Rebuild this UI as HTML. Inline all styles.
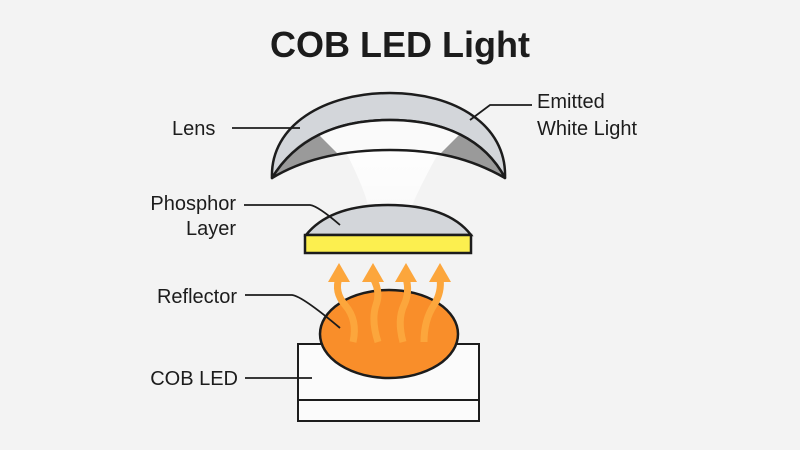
<!DOCTYPE html>
<html><head><meta charset="utf-8"><style>
html,body{margin:0;padding:0;background:#f3f3f3;}
svg{display:block;}
text{font-family:"Liberation Sans",sans-serif;fill:#1c1c1c;}
</style></head><body>
<svg width="800" height="450" viewBox="0 0 800 450">
<defs>
<linearGradient id="beam" x1="0" y1="0" x2="0" y2="1">
<stop offset="0" stop-color="#ffffff" stop-opacity="0.9"/>
<stop offset="1" stop-color="#ffffff" stop-opacity="0.6"/>
</linearGradient>
</defs>
<rect width="800" height="450" fill="#f3f3f3"/>
<text x="400" y="57" text-anchor="middle" font-size="36" font-weight="bold">COB LED Light</text>

<!-- beam -->
<path d="M345 150 Q365 190 368 206 L412 206 Q418 190 440 150 Z" fill="url(#beam)"/>

<!-- lens -->
<path d="M272 178 C270 125 325 93 390 93 C455 93 507 125 505 178 C485 140 445 120 390 120 C335 120 295 140 272 178 Z" fill="#d3d6da" stroke="#1c1c1c" stroke-width="2.5" stroke-linejoin="round"/>
<path d="M272 178 C295 140 335 120 390 120 C445 120 485 140 505 178 C470 158 435 150 390 150 C345 150 305 158 272 178 Z" fill="#fafafa"/>
<path d="M274 176 C285 155 300 142 318 134 L337 153 C315 158 292 165 274 176 Z" fill="#9a9a9a"/>
<path d="M503 176 C492 155 477 142 460 134 L441 153 C462 158 485 165 503 176 Z" fill="#9a9a9a"/>
<path d="M272 178 C295 140 335 120 390 120 C445 120 485 140 505 178 C470 158 435 150 390 150 C345 150 305 158 272 178 Z" fill="none" stroke="#1c1c1c" stroke-width="2.5" stroke-linejoin="round"/>

<!-- phosphor -->
<path d="M306 235 Q330 205 388 205 Q448 205 471 235 Z" fill="#d3d6da" stroke="#1c1c1c" stroke-width="2.5"/>
<rect x="305" y="235" width="166" height="18" fill="#fcef4f" stroke="#1c1c1c" stroke-width="2.5"/>

<!-- cob box -->
<rect x="298" y="344" width="181" height="77" fill="#fbfbfb" stroke="#1c1c1c" stroke-width="2"/>
<line x1="298" y1="400" x2="479" y2="400" stroke="#1c1c1c" stroke-width="2"/>
<ellipse cx="389" cy="334" rx="69" ry="44" fill="#f98e2a" stroke="#1c1c1c" stroke-width="2.5"/>

<!-- arrows -->
<g fill="none" stroke="#fca63c" stroke-width="7" stroke-linecap="butt">
<path d="M353 342 Q358 320 345 305 Q334 292 339 278"/>
<path d="M378 342 Q371 320 376 305 Q381 292 373 278"/>
<path d="M403 342 Q397 320 404 305 Q410 292 406 278"/>
<path d="M424 342 Q424 320 434 305 Q442 292 440 278"/>
</g>
<g fill="#fca63c">
<polygon points="328,282 339,263 350,282"/>
<polygon points="362,282 373,263 384,282"/>
<polygon points="395,282 406,263 417,282"/>
<polygon points="429,282 440,263 451,282"/>
</g>

<!-- leader lines -->
<g fill="none" stroke="#1c1c1c" stroke-width="1.8">
<path d="M232 128 L300 128"/>
<path d="M532 105 L490 105 L470 120"/>
<path d="M244 205 L310 205 Q318 206 340 225"/>
<path d="M245 295 L292 295 Q302 296 340 328"/>
<path d="M245 378 L312 378"/>
</g>

<g font-size="20">
<text x="172" y="135">Lens</text>
<text x="537" y="108">Emitted</text>
<text x="537" y="135">White Light</text>
<text x="236" y="210" text-anchor="end">Phosphor</text>
<text x="236" y="235" text-anchor="end">Layer</text>
<text x="237" y="303" text-anchor="end">Reflector</text>
<text x="238" y="385" text-anchor="end">COB LED</text>
</g>
</svg>
</body></html>
